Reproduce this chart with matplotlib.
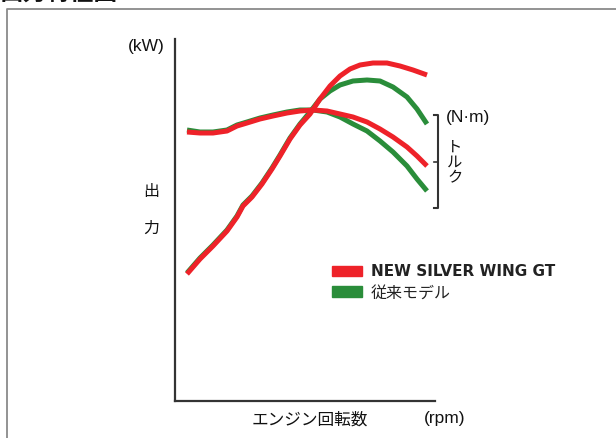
import matplotlib
matplotlib.use("Agg")
import matplotlib.pyplot as plt
from matplotlib.patches import Rectangle

JP = ['Noto Sans CJK JP', 'DejaVu Sans']
LAT = ['Liberation Sans', 'Noto Sans CJK JP', 'DejaVu Sans']

# ---- data (arbitrary units) ----
power_new_x = [12, 25, 38, 52, 62, 68, 77, 87, 97, 105, 115, 125, 135, 145, 155, 165, 175, 185, 198, 212, 225, 238, 252]
power_new_y = [127, 142, 155, 170, 184, 195, 204, 217, 232, 245, 262, 276, 287, 302, 315, 325, 332, 336, 338, 338, 335, 331, 326]
power_old_x = [12, 25, 38, 52, 62, 68, 77, 87, 97, 105, 115, 125, 135, 145, 155, 165, 178, 192, 205, 218, 232, 242, 252]
power_old_y = [128, 143, 156, 171, 185, 196, 205, 218, 233, 246, 263, 277, 289, 302, 310, 316, 320, 321, 320, 314, 304, 292, 277]
torque_x = [12, 25, 38, 52, 62, 72, 85, 98, 112, 125, 138, 152, 165, 178, 192, 205, 218, 232, 242, 252]
torque_new_y = [269, 268, 268, 270, 275, 278, 282, 285, 288, 290, 291, 290, 287, 284, 279, 272, 264, 254, 245, 235]
torque_old_y = [271, 269, 269, 271, 276, 279, 283, 286, 289, 291, 291, 289, 284, 277, 270, 260, 249, 235, 222, 210]

series_labels = ['NEW SILVER WING GT', '従来モデル']
RED = '#ee2229'
GREEN = '#2a8d3a'

fig = plt.figure(figsize=(6.16, 4.39), dpi=100)
W, H = 616, 439

# overlay for frame/texts
ov = fig.add_axes([0, 0, 1, 1])
ov.set_xlim(0, W)
ov.set_ylim(H, 0)
ov.axis('off')
ov.plot([7, 7, W + 5], [H + 5, 10, 10], color='#8a8a8a', lw=1.3, clip_on=False)
ov.text(0, 5, '出力特性図', fontsize=17, fontweight='bold', family=JP,
        ha='left', va='bottom', color='#111')

ax = fig.add_axes([175 / W, (H - 402) / H, 260 / W, 362 / H])
ax.set_xlim(0, 260)
ax.set_ylim(0, 362)
for s in ['top', 'right']:
    ax.spines[s].set_visible(False)
for s in ['left', 'bottom']:
    ax.spines[s].set_color('#333333')
    ax.spines[s].set_linewidth(1.6)
ax.set_xticks([])
ax.set_yticks([])
ax.patch.set_alpha(0)

kw = dict(lw=3.6, solid_capstyle='butt', solid_joinstyle='round', clip_on=False)
ax.plot(power_old_x, power_old_y, color=GREEN, **kw)
ax.plot(torque_x, torque_old_y, color=GREEN, **kw)
ax.plot(power_new_x, power_new_y, color=RED, **kw)
ax.plot(torque_x, torque_new_y, color=RED, **kw)

# torque bracket
ax.plot([259, 263, 263, 259], [286, 286, 193, 193], color='#333333', lw=1.5, clip_on=False)
ax.plot([259, 263], [239, 239], color='#333333', lw=1.2, clip_on=False)

# texts
ov.text(146, 46, '(kW)', fontsize=12.5, family=LAT, ha='center', va='center', color='#111')
ov.text(151, 192, '出', fontsize=11.5, family=JP, ha='center', va='center', color='#111')
ov.text(151, 228, '力', fontsize=11.5, family=JP, ha='center', va='center', color='#111')
ov.text(446, 118, '(N·m)', fontsize=12.5, family=LAT, ha='left', va='center', color='#111')
for i, (ch, yy) in enumerate(zip('トルク', [147, 162, 178])):
    ov.text(455, yy, ch, fontsize=11, family=JP, ha='center', va='center', color='#111')
ov.text(310, 420, 'エンジン回転数', fontsize=12, family=JP, ha='center', va='center', color='#111')
ov.text(445, 419, '(rpm)', fontsize=12.5, family=LAT, ha='center', va='center', color='#111')

# legend
ov.add_patch(Rectangle((332, 267), 30, 10, color=RED))
ov.add_patch(Rectangle((332, 287), 30, 11, color=GREEN))
ov.text(371, 272, series_labels[0], fontsize=11, fontweight='bold', family=['DejaVu Sans'],
        ha='left', va='center', color='#222')
ov.text(371, 293, series_labels[1], fontsize=11.5, family=JP,
        ha='left', va='center', color='#222')

fig.savefig('out.png', dpi=100)
